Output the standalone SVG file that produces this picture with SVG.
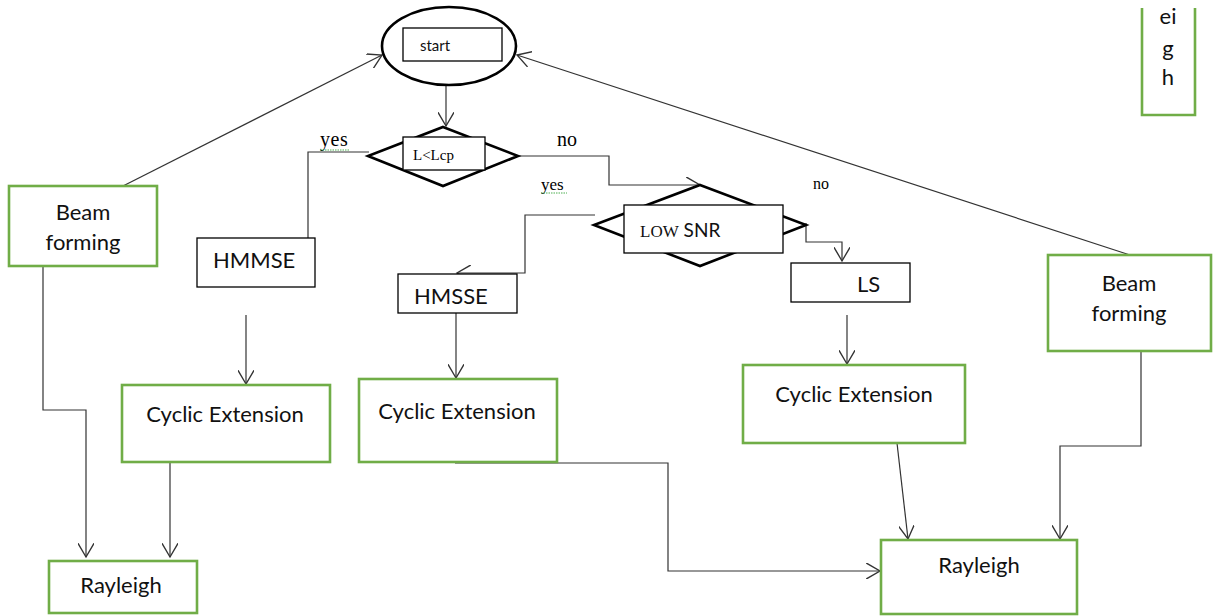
<svg xmlns="http://www.w3.org/2000/svg" width="1227" height="616" viewBox="0 0 1227 616">
<defs>
<marker id="arr" markerUnits="userSpaceOnUse" markerWidth="16" markerHeight="16" refX="12" refY="7" orient="auto" viewBox="0 0 14 14">
<path d="M0,0 L12,7 L0,14" fill="none" stroke="#333" stroke-width="1.2"/>
</marker>
<style>
.g{fill:#fff;stroke:#70ad47;stroke-width:2.6}
.b{fill:#fff;stroke:#000;stroke-width:1.3}
.sh{fill:#fff;stroke:#000;stroke-width:2.6}
.c{fill:none;stroke:#333;stroke-width:1.2}
.ca{fill:none;stroke:#333;stroke-width:1.2;marker-end:url(#arr)}
.t{font-family:Lato,"Liberation Sans",sans-serif;font-size:22px;fill:#111}
.s{font-family:"Liberation Serif",serif;fill:#000}
.w{fill:none;stroke:#4caf50;stroke-width:1;stroke-dasharray:1.5 1}
</style>
</defs>
<g id="connectors">
<path class="ca" d="M446,86 V126"/>
<path class="ca" d="M123,186 L382,55"/>
<path class="ca" d="M1130,255 L517,55"/>
<path class="c" d="M369,152 H308 V238"/>
<path class="ca" d="M518,156 H609 V185 H700"/>
<path class="ca" d="M595,215 H525 V273 H457"/>
<path class="ca" d="M806,223 V242 H842 V261"/>
<path class="ca" d="M847,315 V364"/>
<path class="ca" d="M246,315 V384"/>
<path class="ca" d="M456,313 V378"/>
<path class="ca" d="M170,462 V557"/>
<path class="ca" d="M43,266 V410 H86 V557"/>
<path class="ca" d="M455,463 H668 V571 H880"/>
<path class="ca" d="M897,443 L908,539"/>
<path class="ca" d="M1141,351 V446 H1060 V539"/>
</g>
<g id="start">
<ellipse class="sh" cx="449" cy="46" rx="67" ry="39"/>
<rect class="b" x="403" y="28" width="99" height="33"/>
<text x="420" y="51" font-family="Lato,'Liberation Sans',sans-serif" font-size="15" fill="#111">start</text>
</g>
<g id="decision1">
<polygon class="sh" points="443,127 518,156 443,186 368,156"/>
<rect class="b" x="403" y="137" width="82" height="33"/>
<text class="s" x="413" y="160" font-size="15">L&lt;Lcp</text>
</g>
<g id="label-yes1">
<text class="s" x="320" y="146" font-size="20" letter-spacing="0.5">yes</text>
<path class="w" d="M320,150 H350"/>
</g>
<g id="label-no1">
<text class="s" x="557" y="146" font-size="20">no</text>
</g>
<g id="decision2">
<polygon class="sh" points="700,185 806,225 700,266 594,225"/>
<rect class="b" x="624" y="205" width="159" height="48"/>
<text x="640" y="237" font-size="19" fill="#111"><tspan font-family="'Liberation Serif',serif" font-size="17">LOW</tspan><tspan font-family="Lato,'Liberation Sans',sans-serif"> SNR</tspan></text>
</g>
<g id="label-yes2">
<text class="s" x="541" y="190" font-size="17">yes</text>
<path class="w" d="M541,193 H567"/>
</g>
<g id="label-no2">
<text class="s" x="813" y="189" font-size="16">no</text>
</g>
<g id="beam-left">
<rect class="g" x="9" y="186" width="148" height="80"/>
<text class="t" x="83" y="220" text-anchor="middle">Beam</text>
<text class="t" x="83" y="250" text-anchor="middle">forming</text>
</g>
<g id="beam-right">
<rect class="g" x="1048" y="255" width="163" height="96"/>
<text class="t" x="1129" y="291" text-anchor="middle">Beam</text>
<text class="t" x="1129" y="321" text-anchor="middle">forming</text>
</g>
<g id="hmmse">
<rect class="b" x="197" y="238" width="118" height="49"/>
<text class="t" x="213" y="268" font-size="21">HMMSE</text>
</g>
<g id="hmsse">
<rect class="b" x="398" y="274" width="119" height="39"/>
<text class="t" x="414" y="304" font-size="21">HMSSE</text>
</g>
<g id="ls">
<rect class="b" x="791" y="263" width="119" height="39"/>
<text class="t" x="857" y="292" font-size="19">LS</text>
</g>
<g id="cyclic1">
<rect class="g" x="122" y="385" width="208" height="77"/>
<text class="t" x="225" y="422" text-anchor="middle">Cyclic Extension</text>
</g>
<g id="cyclic2">
<rect class="g" x="359" y="379" width="198" height="83"/>
<text class="t" x="457" y="419" text-anchor="middle">Cyclic Extension</text>
</g>
<g id="cyclic3">
<rect class="g" x="743" y="365" width="222" height="78"/>
<text class="t" x="854" y="402" text-anchor="middle">Cyclic Extension</text>
</g>
<g id="rayleigh1">
<rect class="g" x="49" y="561" width="148" height="52"/>
<text class="t" x="121" y="593" text-anchor="middle">Rayleigh</text>
</g>
<g id="rayleigh2">
<rect class="g" x="881" y="540" width="196" height="74"/>
<text class="t" x="979" y="573" text-anchor="middle">Rayleigh</text>
</g>
<g id="eigh">
<path class="g" fill="none" d="M1142,8 V115 H1195 V8"/>
<text class="t" x="1168" y="24" text-anchor="middle" font-size="20">ei</text>
<text class="t" x="1168" y="56" text-anchor="middle" font-size="20">g</text>
<text class="t" x="1168" y="85" text-anchor="middle" font-size="20">h</text>
</g>
</svg>
